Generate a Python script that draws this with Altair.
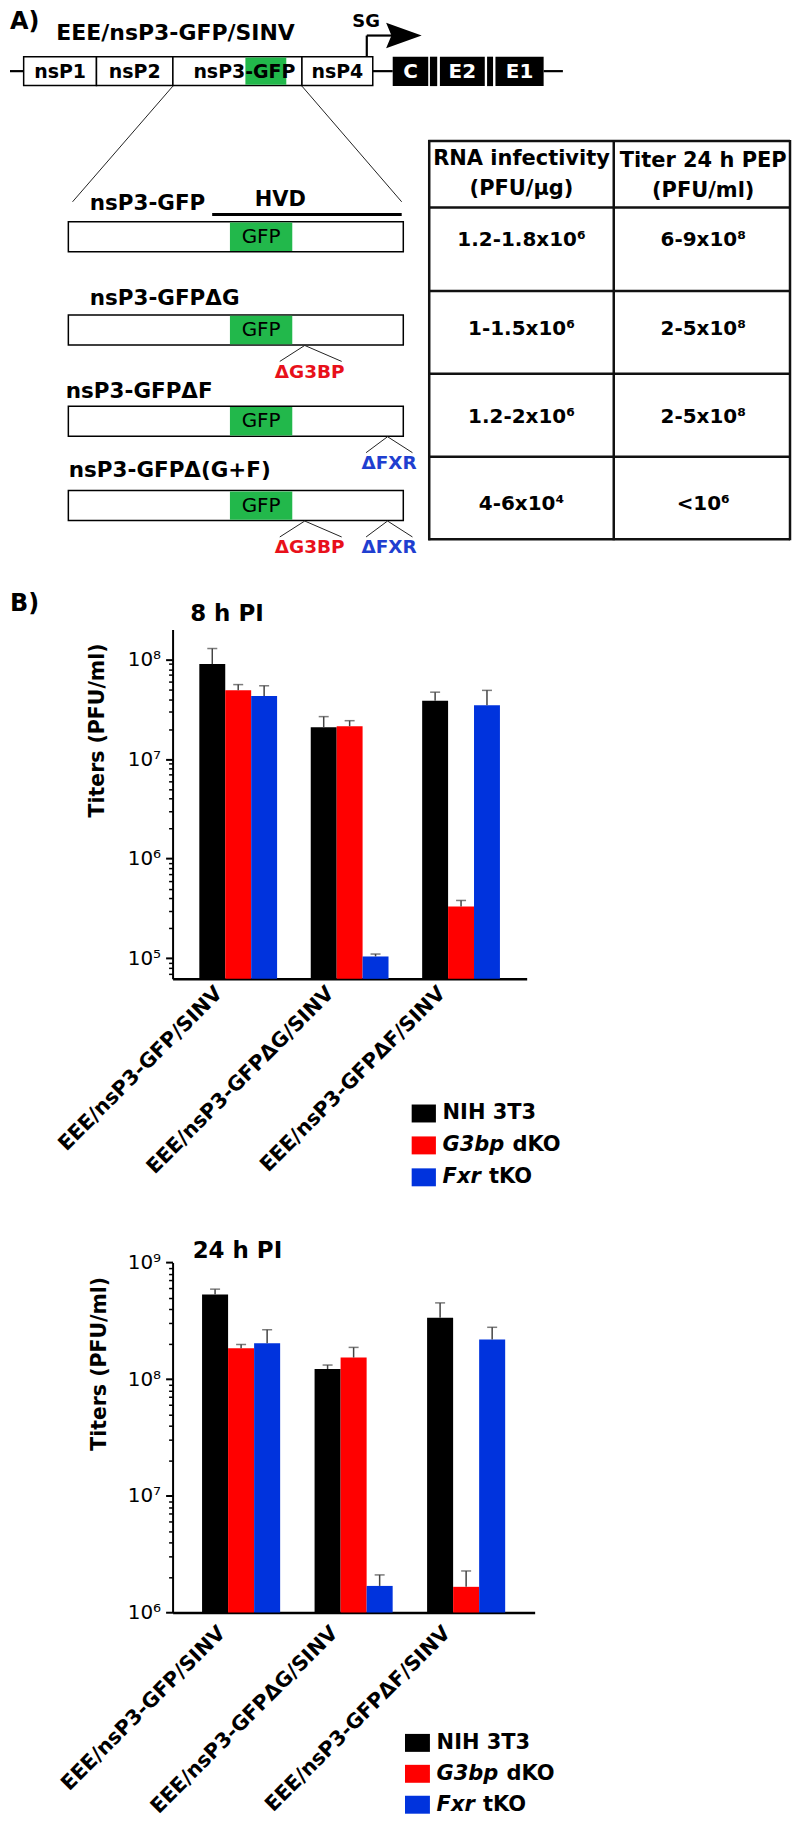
import math
import altair as alt
import pandas as pd

# ---------------- values ----------------
constructs = ["EEE/nsP3-GFP/SINV", "EEE/nsP3-GFPΔG/SINV", "EEE/nsP3-GFPΔF/SINV"]
cell_lines = ["NIH 3T3", "G3bp dKO", "Fxr tKO"]
cell_italic = ["", "G3bp", "Fxr"]
cell_plain = ["NIH 3T3", "dKO", "tKO"]
cell_colors = ["#000000", "#FF0000", "#0033DD"]

# titers (PFU/ml): rows = constructs, columns = cell lines
titer_8h = [[9.0e7, 4.9e7, 4.3e7], [2.09e7, 2.14e7, 1.04e5], [3.85e7, 3.3e5, 3.47e7]]
upper_8h = [[1.29e8, 5.6e7, 5.45e7], [2.67e7, 2.43e7, 1.1e5], [4.7e7, 3.8e5, 4.9e7]]
titer_24h = [[5.3e8, 1.84e8, 2.03e8], [1.22e8, 1.53e8, 1.69e6], [3.36e8, 1.66e6, 2.18e8]]
upper_24h = [[5.9e8, 1.98e8, 2.65e8], [1.32e8, 1.87e8, 2.1e6], [4.5e8, 2.27e6, 2.78e8]]

genome_title = "EEE/nsP3-GFP/SINV"
genome_ns = ["nsP1", "nsP2", "nsP3-GFP", "nsP4"]
genome_sp = ["C", "", "E2", "", "E1"]
variant_names = ["nsP3-GFP", "nsP3-GFPΔG", "nsP3-GFPΔF", "nsP3-GFPΔ(G+F)"]
variant_deletions = [[], ["ΔG3BP"], ["ΔFXR"], ["ΔG3BP", "ΔFXR"]]

table_head_rna = ["RNA infectivity", "(PFU/μg)"]
table_head_titer = ["Titer 24 h PEP", "(PFU/ml)"]
table_rna = ["1.2-1.8x10⁶", "1-1.5x10⁶", "1.2-2x10⁶", "4-6x10⁴"]
table_titer = ["6-9x10⁸", "2-5x10⁸", "2-5x10⁸", "<10⁶"]

# ---------------- layout ----------------
W, H = 784, 1804
OX, OY = 8, 8
FONT = "DejaVu Sans"
GREEN = "#22B84B"
RED_T = "#E8101A"
BLUE_T = "#1F3FD0"
LINE = "#222222"

CX = alt.Scale(domain=[OX, OX + W], range=[0, W], nice=False, zero=False)
CY = alt.Scale(domain=[OY, OY + H], range=[0, H], nice=False, zero=False)


def frame(**cols):
    return pd.DataFrame(cols)


def rect_layer(df, **mk):
    return alt.Chart(df).mark_rect(**mk).encode(
        x=alt.X("x0:Q", scale=CX, axis=None), x2="x1",
        y=alt.Y("y0:Q", scale=CY, axis=None), y2="y1")


def seg_layer(df, **mk):
    return alt.Chart(df).mark_rule(**mk).encode(
        x=alt.X("x0:Q", scale=CX, axis=None), x2="x1",
        y=alt.Y("y0:Q", scale=CY, axis=None), y2="y1")


def text_layer(df, **mk):
    m = dict(font=FONT, baseline="middle", align="center", color="black")
    m.update(mk)
    return alt.Chart(df).mark_text(**m).encode(
        x=alt.X("x:Q", scale=CX, axis=None),
        y=alt.Y("y:Q", scale=CY, axis=None),
        text="t:N")


layers = []

# ---- panel A: genome map ----
layers.append(text_layer(frame(x=[9], y=[15], t=["A)"]), align="left", fontSize=24, fontWeight="bold"))
layers.append(text_layer(frame(x=[175], y=[26], t=[genome_title]), fontSize=22, fontWeight="bold"))
layers.append(seg_layer(frame(x0=[9, 372.7, 544], x1=[22.7, 392.7, 563.3], y0=[64] * 3, y1=[64] * 3),
                        color="black", strokeWidth=2.2))
ns_edges = [22.7, 95.7, 172.3, 301.7, 372.7]
layers.append(rect_layer(frame(x0=ns_edges[:-1], x1=ns_edges[1:], y0=[49.5] * 4, y1=[78.5] * 4),
                         fill="white", stroke="black", strokeWidth=1.5))
layers.append(rect_layer(frame(x0=[245], x1=[286], y0=[50.3], y1=[77.7]), fill=GREEN))
layers.append(text_layer(frame(x=[59.2, 134, 244, 337.2], y=[64.5] * 4, t=genome_ns), fontSize=19, fontWeight="bold"))
sp_x0 = [392.7, 430, 440, 487.3, 495.7]
sp_x1 = [428.3, 437.3, 485, 493.3, 544]
layers.append(rect_layer(frame(x0=sp_x0, x1=sp_x1, y0=[49.5] * 5, y1=[79] * 5), fill="black"))
layers.append(text_layer(frame(x=[(a + b) / 2 for a, b in zip(sp_x0, sp_x1)], y=[64.5] * 5, t=genome_sp),
                         fontSize=20, fontWeight="bold", color="white"))
# subgenomic promoter arrow
layers.append(seg_layer(frame(x0=[366.7, 366.7], x1=[366.7, 392], y0=[49.5, 28.3], y1=[28.3, 28.3]),
                        color="black", strokeWidth=2.2))
layers.append(alt.Chart(frame(x=[403.9], y=[28.3])).mark_point(
    shape="M-1,-0.72L1,0L-1,0.72L-0.7,0Z", size=1270, filled=True, color="black", opacity=1).encode(
    x=alt.X("x:Q", scale=CX, axis=None), y=alt.Y("y:Q", scale=CY, axis=None)))
layers.append(text_layer(frame(x=[366], y=[15], t=["SG"]), fontSize=18, fontWeight="bold"))
# zoom lines
layers.append(seg_layer(frame(x0=[172.3, 301.7], x1=[71.7, 401.7], y0=[79, 79], y1=[195, 195]),
                        color=LINE, strokeWidth=1))

# ---- panel A: nsP3 variants ----
row_y0 = [215, 308.5, 400, 484.5]
VX0, VX1 = 67.5, 403.3
layers.append(rect_layer(frame(x0=[VX0] * 4, x1=[VX1] * 4, y0=row_y0, y1=[y + 30 for y in row_y0]),
                         fill="white", stroke="black", strokeWidth=1.5))
layers.append(rect_layer(frame(x0=[229.5] * 4, x1=[292] * 4, y0=[y + 0.8 for y in row_y0],
                               y1=[y + 29.2 for y in row_y0]), fill=GREEN))
layers.append(text_layer(frame(x=[260.75] * 4, y=[y + 15 for y in row_y0], t=["GFP"] * 4), fontSize=20))
layers.append(text_layer(frame(x=[89, 89, 65, 68], y=[197, 292, 386, 465], t=variant_names),
                         align="left", fontSize=21.5, fontWeight="bold"))
layers.append(seg_layer(frame(x0=[211.7], x1=[401.7], y0=[207.7], y1=[207.7]), color="black", strokeWidth=3))
layers.append(text_layer(frame(x=[280], y=[193.5], t=["HVD"]), fontSize=21, fontWeight="bold"))

caret_geom = {"ΔG3BP": (304.5, 279.5, 341.5, 309.5, RED_T), "ΔFXR": (387.5, 366, 412.5, 389, BLUE_T)}
for y0, dels in zip(row_y0, variant_deletions):
    for d in dels:
        ax, lx, rx, tx, col = caret_geom[d]
        yb = y0 + 30.5
        layers.append(seg_layer(frame(x0=[ax, ax], x1=[lx, rx], y0=[yb, yb], y1=[yb + 16, yb + 16]),
                                color=LINE, strokeWidth=1))
        layers.append(text_layer(frame(x=[tx], y=[y0 + 57], t=[d]), fontSize=18.5, fontWeight="bold", color=col))

# ---- panel A: table ----
TX = [429.3, 614.3, 791]
TY = [134, 200.7, 284.3, 367.3, 450.7, 533.3]
layers.append(seg_layer(frame(x0=[TX[0] - 1] * len(TY), x1=[TX[-1]] * len(TY), y0=TY, y1=TY),
                        color="#111111", strokeWidth=2.5))
layers.append(seg_layer(frame(x0=TX, x1=TX, y0=[TY[0] - 1] * 3, y1=[TY[-1] + 1] * 3),
                        color="#111111", strokeWidth=2.5))
layers.append(text_layer(frame(x=[521.8, 521.8, 704, 704], y=[152, 182, 154, 184],
                               t=table_head_rna + table_head_titer), fontSize=21, fontWeight="bold"))
row_text_y = [233, 322.7, 410.5, 498]
layers.append(text_layer(frame(x=[521.8] * 4, y=row_text_y, t=table_rna), fontSize=20, fontWeight="bold"))
layers.append(text_layer(frame(x=[704] * 4, y=row_text_y, t=table_titer), fontSize=20, fontWeight="bold"))

# ---- panel B: text around the bar charts ----
layers.append(text_layer(frame(x=[9], y=[598], t=["B)"]), align="left", fontSize=24, fontWeight="bold"))
layers.append(text_layer(frame(x=[226.5, 237], y=[608, 1247], t=["8 h PI", "24 h PI"]), fontSize=23, fontWeight="bold"))
layers.append(text_layer(frame(x=[97, 99], y=[725, 1360], t=["Titers (PFU/ml)"] * 2),
                         fontSize=20.5, fontWeight="bold", angle=270))


def legend_layers(sq_x0, sq_x1, rows_y, text_x):
    out = []
    df_sq = frame(x0=[sq_x0] * 3, x1=[sq_x1] * 3, y0=[y - 9 for y in rows_y], y1=[y + 9 for y in rows_y],
                  col=cell_colors)
    out.append(alt.Chart(df_sq).mark_rect().encode(
        x=alt.X("x0:Q", scale=CX, axis=None), x2="x1",
        y=alt.Y("y0:Q", scale=CY, axis=None), y2="y1",
        color=alt.Color("col:N", scale=None)))
    ital_w = {"G3bp": 70, "Fxr": 46.5}
    out.append(text_layer(frame(x=[text_x] * 3, y=rows_y, t=cell_italic), align="left", fontSize=21,
                          fontWeight="bold", fontStyle="italic"))
    out.append(text_layer(frame(x=[text_x + ital_w.get(it, 0) for it in cell_italic], y=rows_y, t=cell_plain),
                          align="left", fontSize=21, fontWeight="bold"))
    return out


layers += legend_layers(411.7, 436, [1109, 1141, 1173], 442.7)
layers += legend_layers(405, 430, [1740, 1771, 1802], 436.7)

canvas = alt.layer(*layers)

SUP = {4: "⁴", 5: "⁵", 6: "⁶", 7: "⁷", 8: "⁸", 9: "⁹"}


def bar_panel(titers, uppers, dom, y_bottom, decade_px, x_left, x_right, pin, pout,
              lab_pad, lab_off, major_exps, minor_vals):
    rows = []
    for i, c in enumerate(constructs):
        for j, cl in enumerate(cell_lines):
            rows.append({"construct": c, "cell": cl, "titer": titers[i][j],
                         "upper": uppers[i][j], "base": dom[0]})
    df = pd.DataFrame(rows)
    y_top = y_bottom - decade_px * math.log10(dom[1] / dom[0])
    ysc = alt.Scale(type="log", domain=dom, range=[y_bottom - OY, y_top - OY], nice=False)
    xsc = alt.Scale(domain=constructs, range=[x_left - OX, x_right - OX], paddingInner=pin, paddingOuter=pout)
    osc = alt.Scale(domain=cell_lines, paddingInner=0, paddingOuter=0)
    csc = alt.Scale(domain=cell_lines, range=cell_colors)
    majors = [10 ** e for e in major_exps]
    label_expr = " : ".join(f"datum.value == {10 ** e} ? '10{SUP[e]}'" for e in major_exps) + " : ''"
    x_axis = alt.Axis(orient="bottom", offset=(y_bottom - OY) - H, ticks=False, bandPosition=0.5,
                      domainColor="black", domainWidth=2.5, labelAngle=-45, labelAlign="right",
                      labelBaseline="top", labelFont=FONT, labelFontWeight="bold", labelFontSize=20.5,
                      labelColor="black", labelPadding=lab_pad, labelOffset=lab_off, labelLimit=0,
                      labelOverlap=False, title=None, grid=False)
    y_major = alt.Axis(orient="left", offset=-(x_left - OX), values=majors, labelExpr=label_expr,
                       tickSize=7, tickWidth=2, tickColor="black", domainColor="black", domainWidth=2,
                       labelFont=FONT, labelFontSize=20, labelColor="black", labelPadding=5,
                       labelOverlap=False, title=None, grid=False)
    y_minor = alt.Axis(orient="left", offset=-(x_left - OX), values=minor_vals, tickSize=4, tickWidth=1.5,
                       tickColor="black", domain=False, labels=False, title=None, grid=False)
    X = alt.X("construct:N", scale=xsc, axis=x_axis, sort=constructs)
    Xn = alt.X("construct:N", scale=xsc, axis=None, sort=constructs)
    XO = alt.XOffset("cell:N", scale=osc, sort=cell_lines)
    bars = alt.Chart(df).mark_bar().encode(
        x=X, xOffset=XO, y=alt.Y("titer:Q", scale=ysc, axis=y_major), y2="base",
        color=alt.Color("cell:N", scale=csc, legend=None))
    err = alt.Chart(df).mark_rule(color="#444444", strokeWidth=1.5).encode(
        x=Xn, xOffset=XO, y=alt.Y("titer:Q", scale=ysc, axis=y_minor), y2="upper")
    cap = alt.Chart(df).mark_tick(color="#444444", thickness=1.5, size=10, orient="horizontal").encode(
        x=Xn, xOffset=XO, y=alt.Y("upper:Q", scale=ysc, axis=None))
    return alt.layer(bars, err, cap).resolve_axis(x="independent", y="independent")


minor_8h = [k * 10 ** 4 for k in (7, 8, 9)] + [k * 10 ** e for e in (5, 6, 7) for k in range(2, 10)]
minor_24h = [k * 10 ** e for e in (6, 7, 8) for k in range(2, 10)]

bars8 = bar_panel(titer_8h, upper_8h, [6.2e4, 2e8], 974, 99.8, 172, 527, 0.302, 0.24,
                  4, -26, [5, 6, 7, 8], minor_8h)
bars24 = bar_panel(titer_24h, upper_24h, [1e6, 1e9], 1609.3, 117, 172, 535, 0.306, 0.262,
                   10, -26, [6, 7, 8, 9], minor_24h)

chart = alt.layer(canvas, bars8, bars24).resolve_scale(
    x="independent", y="independent", xOffset="independent"
).properties(width=W, height=H, padding=0).configure_view(stroke=None)

chart.save("out.html", embed_options={"renderer": "svg", "actions": False})
